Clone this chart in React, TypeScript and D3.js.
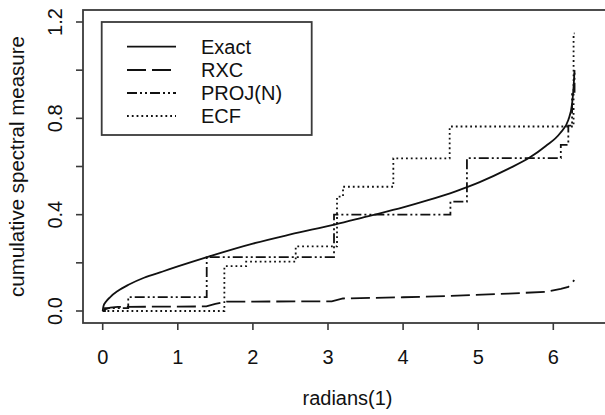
import React from "react";
import * as d3 from "d3";

const xTicks = [0, 1, 2, 3, 4, 5, 6];
const yTicks = [0, 0.2, 0.4, 0.6, 0.8, 1.0, 1.2];
const yLabels = ["0.0", "0.4", "0.8", "1.2"];
const yLabelVals = [0, 0.4, 0.8, 1.2];

const seriesNames = ["Exact", "RXC", "PROJ(N)", "ECF"];

const exactX = [0, 0.01, 0.04, 0.1, 0.2, 0.35, 0.55, 0.8, 1.0, 1.41, 2.0, 2.5, 3.1, 3.51, 4.0, 4.31, 4.7, 5.02, 5.4, 5.69, 5.9, 6.09, 6.2, 6.25, 6.27, 6.283];
const exactY = [0, 0.02, 0.037, 0.058, 0.083, 0.11, 0.138, 0.164, 0.185, 0.226, 0.28, 0.318, 0.36, 0.392, 0.43, 0.458, 0.497, 0.535, 0.59, 0.638, 0.685, 0.738, 0.793, 0.86, 0.93, 1.0];

const rxcX = [0, 0.04, 0.1, 0.2, 1.38, 1.5, 1.65, 3.05, 3.2, 4.0, 4.6, 5.4, 5.9, 6.1, 6.2, 6.28];
const rxcY = [0, 0.008, 0.014, 0.017, 0.019, 0.03, 0.039, 0.04, 0.052, 0.057, 0.062, 0.072, 0.08, 0.092, 0.1, 0.128];

const projX = [0, 0.03, 0.34, 1.385, 3.08, 4.63, 4.85, 6.1, 6.2, 6.25, 6.283];
const projY = [0, 0.012, 0.058, 0.224, 0.4, 0.454, 0.635, 0.69, 0.77, 0.9, 1.0];

const ecfX = [0, 1.62, 1.91, 2.57, 3.12, 3.2, 3.87, 4.62, 6.27, 6.283];
const ecfY = [0, 0.186, 0.205, 0.268, 0.475, 0.516, 0.634, 0.766, 1.153, 1.153];

const FONT = "'Liberation Sans', Arial, Helvetica, sans-serif";
const INK = "#111";

export default function App() {
  const W = 605, H = 415;
  const box = { left: 83, top: 10, right: 612, bottom: 323 };
  const x = d3.scaleLinear().domain([0, 6]).range([102.7, 553.3]);
  const y = d3.scaleLinear().domain([0, 1.2]).range([311, 22]);

  const zip = (xs: number[], ys: number[]) => xs.map((v, i) => [v, ys[i]] as [number, number]);

  const lineSmooth = d3.line<[number, number]>().x(d => x(d[0])).y(d => y(d[1])).curve(d3.curveMonotoneX);
  const lineLin = d3.line<[number, number]>().x(d => x(d[0])).y(d => y(d[1]));
  const lineStep = d3.line<[number, number]>().x(d => x(d[0])).y(d => y(d[1])).curve(d3.curveStepAfter);

  const styles = [
    { dash: "none" },
    { dash: "19 6" },
    { dash: "10 3 2 3 2 3" },
    { dash: "1.8 3" },
  ];

  const paths = [
    lineSmooth(zip(exactX, exactY)),
    lineLin(zip(rxcX, rxcY)),
    lineStep(zip(projX, projY)),
    lineStep(zip(ecfX, ecfY)),
  ];

  const legend = { x0: 101.7, y0: 22, x1: 311.7, y1: 135 };
  const legendRows = [46.7, 70, 93, 116];

  return (
    <svg width={W} height={H} style={{ position: "absolute", left: 0, top: 0, background: "#fff" }} fontFamily={FONT}>
      <rect x={0} y={0} width={W} height={H} fill="#fff" />
      <rect x={box.left} y={box.top} width={box.right - box.left} height={box.bottom - box.top} fill="none" stroke="#3a3a3a" strokeWidth={1.8} />
      {xTicks.map(t => (
        <g key={"xt" + t}>
          <line x1={x(t)} x2={x(t)} y1={box.bottom} y2={box.bottom + 7} stroke="#3a3a3a" strokeWidth={1.6} />
          <text x={x(t)} y={364} textAnchor="middle" fontSize={20} fill={INK}>{t}</text>
        </g>
      ))}
      {yTicks.map(t => (
        <line key={"yt" + t} x1={box.left - 7} x2={box.left} y1={y(t)} y2={y(t)} stroke="#3a3a3a" strokeWidth={1.6} />
      ))}
      {yLabelVals.map((t, i) => (
        <text key={"yl" + t} transform={`translate(62,${y(t)}) rotate(-90)`} textAnchor="middle" fontSize={20} fill={INK}>{yLabels[i]}</text>
      ))}
      <text x={(box.left + box.right) / 2} y={405} textAnchor="middle" fontSize={20} fill={INK}>radians(1)</text>
      <text transform={`translate(24,${(box.top + box.bottom) / 2}) rotate(-90)`} textAnchor="middle" fontSize={20.5} fill={INK}>cumulative spectral measure</text>
      {paths.map((p, i) => (
        <path key={"s" + i} d={p || ""} fill="none" stroke={INK} strokeWidth={1.8} strokeDasharray={styles[i].dash} strokeLinecap="butt" />
      ))}
      <rect x={legend.x0} y={legend.y0} width={legend.x1 - legend.x0} height={legend.y1 - legend.y0} fill="#fff" stroke="#3a3a3a" strokeWidth={1.8} />
      {seriesNames.map((n, i) => (
        <g key={"lg" + n}>
          <line x1={127} x2={176} y1={legendRows[i]} y2={legendRows[i]} stroke={INK} strokeWidth={1.8} strokeDasharray={styles[i].dash} />
          <text x={201} y={legendRows[i] + 7} fontSize={20} fill={INK}>{n}</text>
        </g>
      ))}
    </svg>
  );
}
